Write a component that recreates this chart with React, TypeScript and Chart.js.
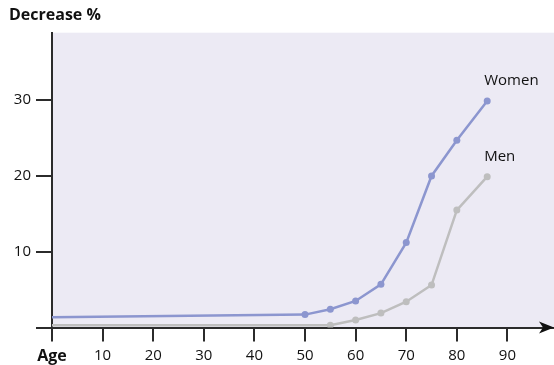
import React, { useEffect, useRef } from "react";
import { Chart, registerables } from "chart.js";

Chart.register(...registerables);

const ageWomen = [0, 50, 55, 60, 65, 70, 75, 80, 86];
const women = [1.35, 1.7, 2.4, 3.5, 5.7, 11.2, 20.0, 24.7, 29.9];
const ageMen = [0, 55, 60, 65, 70, 75, 80, 86];
const men = [0.3, 0.3, 1.0, 1.9, 3.4, 5.6, 15.5, 19.9];
const seriesNames = ["Women", "Men"];
const xTicks = [0, 10, 20, 30, 40, 50, 60, 70, 80, 90];
const xTickLabels = ["Age", "10", "20", "30", "40", "50", "60", "70", "80", "90"];
const yTicks = [0, 10, 20, 30];
const yTickLabels = ["", "10", "20", "30"];
const yTitle = "Decrease %";

const FONT = "'Open Sans', 'Noto Sans', sans-serif";
const AXIS = "#2b2b2b";

const bgPlugin = {
  id: "bg",
  beforeDraw(chart: any) {
    const { ctx, chartArea } = chart;
    ctx.save();
    ctx.fillStyle = "#ECEAF4";
    ctx.fillRect(chartArea.left, chartArea.top, chartArea.right - chartArea.left, chartArea.bottom - chartArea.top);
    ctx.restore();
  },
};

const labelPlugin = {
  id: "seriesLabels",
  afterDatasetsDraw(chart: any) {
    const { ctx } = chart;
    ctx.save();
    ctx.font = `15px ${FONT}`;
    ctx.fillStyle = "#111";
    ctx.textAlign = "left";
    ctx.textBaseline = "alphabetic";
    chart.data.datasets.forEach((ds: any, i: number) => {
      const meta = chart.getDatasetMeta(i);
      const pt = meta.data[meta.data.length - 1];
      ctx.fillText(ds.label, pt.x - 3, pt.y - 16);
    });
    ctx.restore();
  },
  afterDraw(chart: any) {
    const { ctx, chartArea } = chart;
    const y = chartArea.bottom;
    const tip = chartArea.right;
    ctx.save();
    ctx.fillStyle = "#111";
    ctx.beginPath();
    ctx.moveTo(tip, y);
    ctx.lineTo(tip - 15, y - 6);
    ctx.lineTo(tip - 11, y);
    ctx.lineTo(tip - 15, y + 6);
    ctx.closePath();
    ctx.fill();
    ctx.restore();
  },
};

export default function App() {
  const ref = useRef<HTMLCanvasElement>(null);
  useEffect(() => {
    if (!ref.current) return;
    const chart = new Chart(ref.current, {
      type: "line",
      data: {
        datasets: [
          {
            label: seriesNames[0],
            data: ageWomen.map((a, i) => ({ x: a, y: women[i] })),
            borderColor: "#8C96CF",
            backgroundColor: "#8C96CF",
            borderWidth: 2.5,
            pointRadius: ageWomen.map((_, i) => (i === 0 ? 0 : 3.5)),
            pointBorderWidth: 0,
            tension: 0,
          },
          {
            label: seriesNames[1],
            data: ageMen.map((a, i) => ({ x: a, y: men[i] })),
            borderColor: "#BEBEBE",
            backgroundColor: "#BEBEBE",
            borderWidth: 2.5,
            pointRadius: ageMen.map((_, i) => (i === 0 ? 0 : 3.5)),
            pointBorderWidth: 0,
            tension: 0,
          },
        ],
      },
      options: {
        animation: false,
        responsive: false,
        layout: { autoPadding: false, padding: { left: 9, right: 0, top: 0, bottom: 0 } },
        plugins: {
          legend: { display: false },
          tooltip: { enabled: false },
          title: {
            display: true,
            text: yTitle,
            align: "start",
            color: "#111",
            font: { family: FONT, size: 16, weight: "bold" },
            padding: { top: 6, bottom: 7.5 },
          },
        },
        scales: {
          x: {
            type: "linear",
            min: 0,
            max: 99.2,
            afterBuildTicks: (s: any) => {
              s.ticks = xTicks.map((v) => ({ value: v }));
            },
            afterFit: (s: any) => {
              s.height = 37.5;
            },
            ticks: {
              callback: (v: any) => xTickLabels[xTicks.indexOf(Number(v))] ?? "",
              color: "#111",
              padding: 5,
              maxRotation: 0,
              autoSkip: false,
              font: (c: any) =>
                c.tick && c.tick.value === 0
                  ? { family: FONT, size: 16, weight: "bold" }
                  : { family: FONT, size: 15 },
            },
            grid: { drawOnChartArea: false, drawTicks: true, tickLength: 14, color: AXIS, lineWidth: 2 },
            border: { display: true, color: AXIS, width: 2 },
          },
          y: {
            min: 0,
            max: 38.9,
            afterBuildTicks: (s: any) => {
              s.ticks = yTicks.map((v) => ({ value: v }));
            },
            afterFit: (s: any) => {
              s.width = 43;
            },
            ticks: {
              callback: (v: any) => yTickLabels[yTicks.indexOf(Number(v))] ?? "",
              color: "#111",
              padding: 5,
              font: { family: FONT, size: 15 },
            },
            grid: { drawOnChartArea: false, drawTicks: true, tickLength: 16, color: AXIS, lineWidth: 2 },
            border: { display: true, color: AXIS, width: 2 },
          },
        },
      },
      plugins: [bgPlugin, labelPlugin],
    } as any);
    return () => chart.destroy();
  }, []);
  return (
    <div style={{ position: "absolute", left: 0, top: 0, width: 554, height: 365, background: "#fff" }}>
      <canvas ref={ref} width={554} height={365} style={{ display: "block" }} />
    </div>
  );
}
